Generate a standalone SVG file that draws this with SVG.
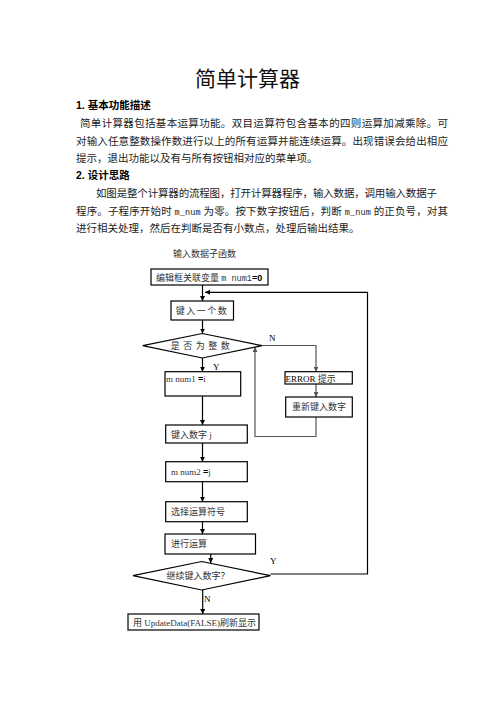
<svg xmlns="http://www.w3.org/2000/svg" width="496" height="702" viewBox="0 0 496 702">
<defs>
<marker id="ah" viewBox="0 0 10 10" refX="10" refY="5" markerWidth="5" markerHeight="5" orient="auto" markerUnits="userSpaceOnUse">
<path d="M0,0 L10,5 L0,10 z" fill="#000"/>
</marker>
<marker id="ahg" viewBox="0 0 10 10" refX="10" refY="5" markerWidth="5" markerHeight="5" orient="auto" markerUnits="userSpaceOnUse">
<path d="M0,0 L10,5 L0,10 z" fill="#555"/>
</marker>
</defs>
<style>
.doc{font-family:"Liberation Serif","Noto Sans CJK SC",serif;fill:#222;font-size:10.5px}
.hd{font-family:"Liberation Sans","Noto Sans CJK SC",sans-serif;font-weight:bold;fill:#000;font-size:10.5px}
.ttl{font-family:"Noto Sans CJK SC",sans-serif;fill:#111;font-size:21px}
.mono{font-family:"Liberation Mono",monospace;font-size:8.5px}
.box{fill:#fff;stroke:#000;stroke-width:1.2}
.t{font-family:"Liberation Serif","Noto Sans CJK SC",serif;font-size:9px;fill:#333}
.lbl{font-family:"Liberation Serif",serif;font-size:9px;fill:#000}
.c{fill:none;stroke:#000;stroke-width:1.2}
.g{fill:none;stroke:#555;stroke-width:1.2}
</style>
<rect width="496" height="702" fill="#fff"/>
<text class="ttl" x="247.5" y="86" text-anchor="middle">简单计算器</text>
<text class="hd" x="76" y="109">1. 基本功能描述</text>
<text class="doc" x="80" y="127" textLength="368" lengthAdjust="spacing">简单计算器包括基本运算功能。双目运算符包含基本的四则运算加减乘除。可</text>
<text class="doc" x="76" y="145" textLength="372" lengthAdjust="spacing">对输入任意整数操作数进行以上的所有运算并能连续运算。出现错误会给出相应</text>
<text class="doc" x="76" y="162">提示，退出功能以及有与所有按钮相对应的菜单项。</text>
<text class="hd" x="76" y="179">2. 设计思路</text>
<text class="doc" x="96" y="197" textLength="341" lengthAdjust="spacing">如图是整个计算器的流程图，打开计算器程序，输入数据，调用输入数据子</text>
<text class="doc" x="76" y="215" textLength="372" lengthAdjust="spacing">程序。子程序开始时 <tspan class="mono">m_num</tspan> 为零。按下数字按钮后，判断 <tspan class="mono">m_num</tspan> 的正负号，对其</text>
<text class="doc" x="76" y="232">进行相关处理，然后在判断是否有小数点，处理后输出结果。</text>

<text class="t" x="173" y="257">输入数据子函数</text>

<g id="connectors">
<line class="c" x1="202.5" y1="285" x2="202.5" y2="301" marker-end="url(#ah)"/>
<line class="c" x1="202.5" y1="320" x2="202.5" y2="333.5" marker-end="url(#ah)"/>
<line class="c" x1="202.5" y1="358" x2="202.5" y2="371.7" marker-end="url(#ah)"/>
<line class="c" x1="202.5" y1="396" x2="202.5" y2="425" marker-end="url(#ah)"/>
<line class="c" x1="202.5" y1="443" x2="202.5" y2="461.7" marker-end="url(#ah)"/>
<line class="c" x1="202.5" y1="481.7" x2="202.5" y2="501.7" marker-end="url(#ah)"/>
<line class="c" x1="202.5" y1="521.7" x2="202.5" y2="534" marker-end="url(#ah)"/>
<line class="c" x1="210.7" y1="554" x2="210.7" y2="563" marker-end="url(#ah)"/>
<line class="c" x1="202.7" y1="590" x2="202.7" y2="614" marker-end="url(#ah)"/>
<polyline class="g" points="262,345.5 316,345.5 316,371.7" marker-end="url(#ahg)"/>
<line class="g" x1="316" y1="384" x2="316" y2="397" marker-end="url(#ahg)"/>
<polyline class="g" points="316,417 316,436.5 255,436.5 255,347" marker-end="url(#ahg)"/>
<polyline class="c" points="270.5,574 367.5,574 367.5,292.3 205,292.3" marker-end="url(#ah)"/>
<text class="lbl" x="269" y="341">N</text>
<text class="lbl" x="213" y="370">Y</text>
<text class="lbl" x="270" y="564">Y</text>
<text class="lbl" x="204" y="602">N</text>
</g>

<g id="n_init"><rect class="box" x="151" y="269" width="117" height="16"/>
<text class="t" x="156" y="280.5">编辑框关联变量 <tspan class="mono">m num1</tspan><tspan font-family="Liberation Sans" font-weight="bold" fill="#000">=0</tspan></text></g>
<g id="n_input"><rect class="box" x="171" y="301" width="62.5" height="19"/>
<text class="t" x="202" y="314" text-anchor="middle" letter-spacing="1.5">键入一个数</text></g>
<g id="n_isint"><polygon class="box" points="142.7,345.7 202.3,333.5 262,345.7 202.3,358"/>
<text class="t" x="202" y="349" text-anchor="middle" letter-spacing="3.5">是否为整数</text></g>
<g id="n_num1"><rect class="box" x="165" y="371.7" width="75.7" height="24.3"/>
<text class="t" x="166" y="382">m  num1 <tspan font-family="Liberation Sans" font-weight="bold" fill="#000">=</tspan>i</text></g>
<g id="n_error"><rect class="box" x="285" y="371.7" width="67.3" height="12.3"/>
<text class="t" x="285.5" y="381.5"><tspan fill="#000">ERROR</tspan> 提示</text></g>
<g id="n_retry"><rect class="box" x="285.7" y="397" width="66.6" height="20"/>
<text class="t" x="319" y="410" text-anchor="middle">重新键入数字</text></g>
<g id="n_inputj"><rect class="box" x="165.7" y="425" width="81.6" height="18"/>
<text class="t" x="171" y="437.5">键入数字 j</text></g>
<g id="n_num2"><rect class="box" x="165.7" y="461.7" width="81.6" height="20"/>
<text class="t" x="171" y="475">m  num2 <tspan font-family="Liberation Sans" font-weight="bold" fill="#000">=</tspan>j</text></g>
<g id="n_op"><rect class="box" x="165.7" y="501.7" width="81.6" height="20"/>
<text class="t" x="171" y="515">选择运算符号</text></g>
<g id="n_calc"><rect class="box" x="165" y="534" width="90.5" height="20"/>
<text class="t" x="171" y="547">进行运算</text></g>
<g id="n_cont"><polygon class="box" points="133,575.7 201.7,561.5 270.5,575.7 201.7,590"/>
<text class="t" x="198" y="579" text-anchor="middle">继续键入数字？</text></g>
<g id="n_update"><rect class="box" x="128" y="614" width="131" height="16"/>
<text class="t" x="133" y="625.5">用 UpdateData(FALSE)刷新显示</text></g>
</svg>
